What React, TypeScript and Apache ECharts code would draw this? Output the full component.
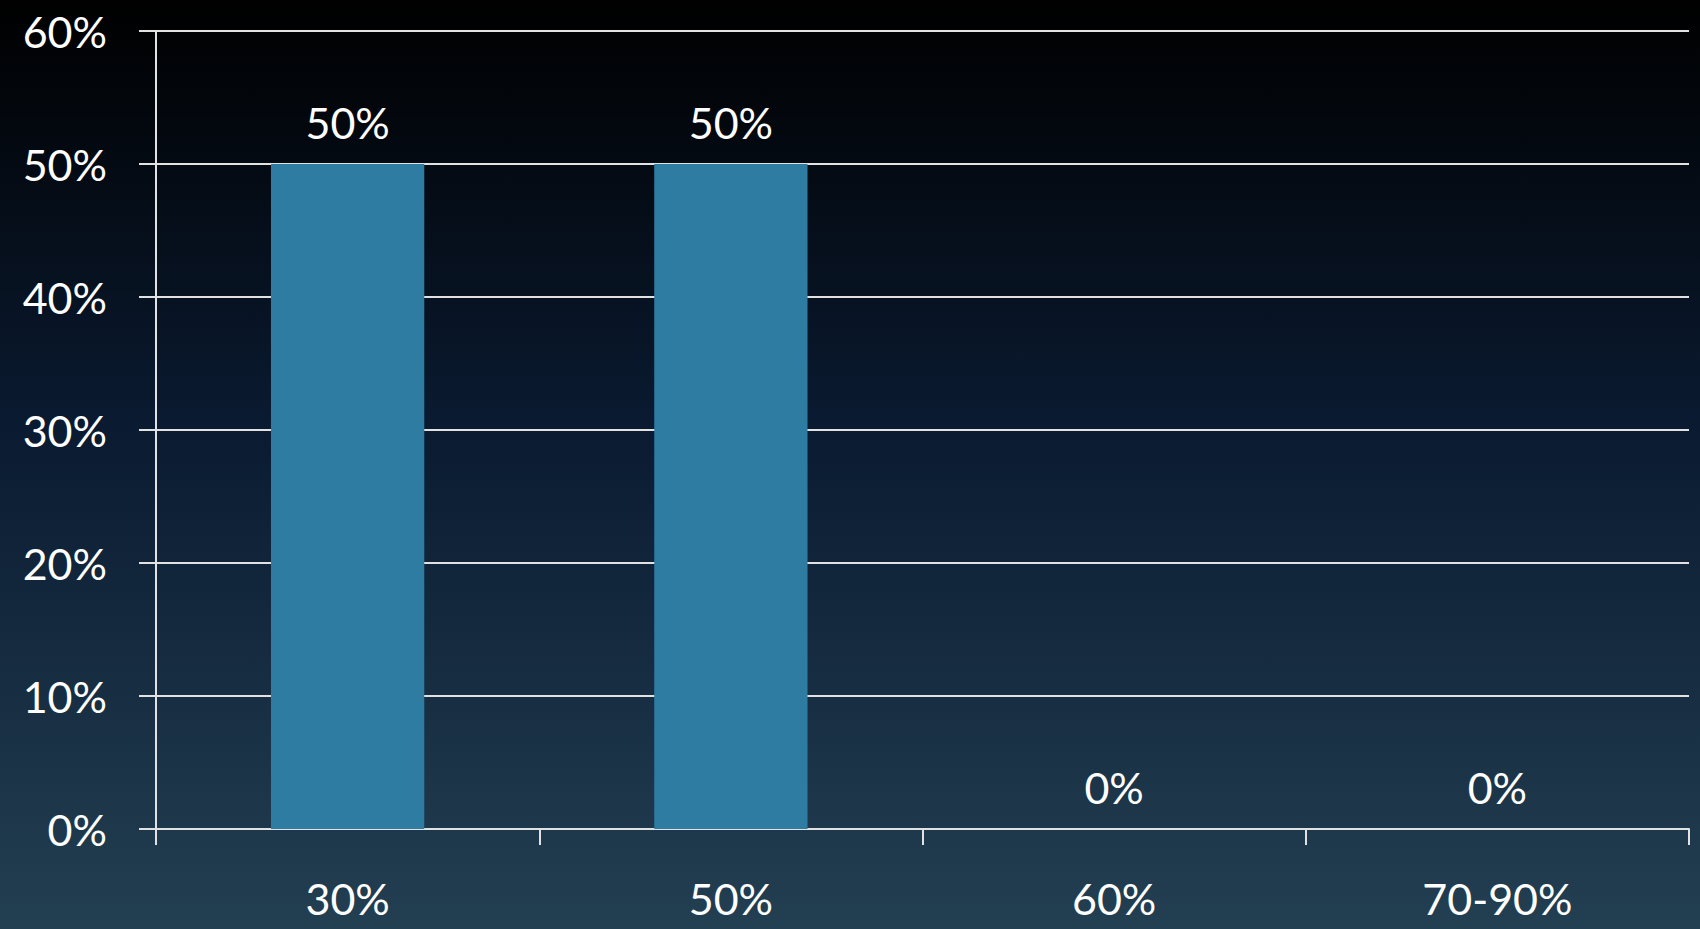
import React, { useEffect, useRef } from "react";
import * as echarts from "echarts";

// Share of responses per bucket
const categories: string[] = ["30%", "50%", "60%", "70-90%"];
const shares: number[] = [0.5, 0.5, 0, 0];
const yTicks = { min: 0, max: 0.6, interval: 0.1 };

const FONT = "Lato, 'Open Sans', 'Noto Sans', sans-serif";
const LINE = "#e2e2e2";
const FONT_SIZE = 43;

const pct = (v: number) => `${Math.round(v * 100)}%`;

export default function App() {
  const ref = useRef<HTMLDivElement>(null);

  useEffect(() => {
    if (!ref.current) return;
    const chart = echarts.init(ref.current, undefined, { renderer: "svg" });
    chart.setOption({
      animation: false,
      backgroundColor: new echarts.graphic.LinearGradient(0, 0, 0, 1, [
        { offset: 0, color: "#000000" },
        { offset: 0.45, color: "#0a1a30" },
        { offset: 1, color: "#233f52" },
      ]),
      textStyle: { fontFamily: FONT },
      grid: { left: 156, right: 11, top: 31, bottom: 100, containLabel: false },
      xAxis: {
        type: "category",
        data: categories,
        boundaryGap: true,
        axisLine: { show: true, lineStyle: { color: LINE, width: 2 } },
        axisTick: { show: true, length: 16, lineStyle: { color: LINE, width: 2 } },
        axisLabel: {
          color: "#ffffff",
          fontSize: FONT_SIZE,
          fontFamily: FONT,
          margin: 48,
        },
        splitLine: { show: false },
      },
      yAxis: {
        type: "value",
        min: yTicks.min,
        max: yTicks.max,
        interval: yTicks.interval,
        axisLine: { show: true, lineStyle: { color: LINE, width: 2 } },
        axisTick: { show: true, length: 17, lineStyle: { color: LINE, width: 2 } },
        axisLabel: {
          color: "#ffffff",
          fontSize: FONT_SIZE,
          fontFamily: FONT,
          margin: 49,
          formatter: (v: number) => pct(v),
        },
        splitLine: { show: true, lineStyle: { color: LINE, width: 2 } },
      },
      series: [
        {
          type: "bar",
          data: shares,
          barWidth: "40%",
          itemStyle: { color: "#2e7ca1" },
          z: 1,
          label: {
            show: true,
            position: "top",
            distance: 20,
            color: "#ffffff",
            fontSize: FONT_SIZE,
            fontFamily: FONT,
            formatter: (p: any) => pct(p.value),
          },
        },
      ],
    });
    return () => chart.dispose();
  }, []);

  return (
    <div
      ref={ref}
      style={{ position: "fixed", left: 0, top: 0, width: 1700, height: 929 }}
    />
  );
}
